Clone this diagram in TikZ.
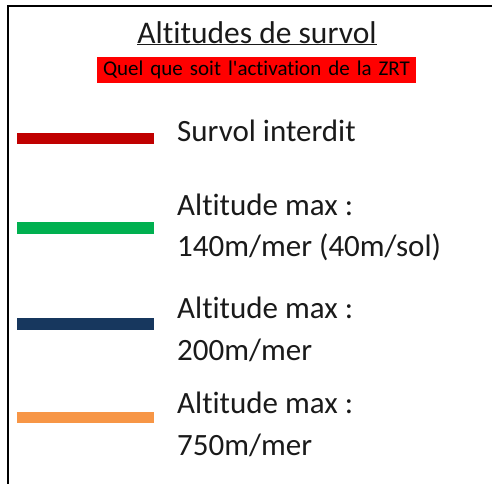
\documentclass[tikz,border=0pt]{standalone}
\usepackage{fontspec}
\setmainfont{Carlito}[RawFeature=-liga]
\usepackage{tikz}
\usetikzlibrary{positioning}

\definecolor{barred}{HTML}{C00000}
\definecolor{bargreen}{HTML}{00B050}
\definecolor{barnavy}{HTML}{17375E}
\definecolor{barorange}{HTML}{F79646}
\definecolor{boxred}{HTML}{FF0000}
\definecolor{ink}{HTML}{1A1A1A}

\tikzset{
	bar/.style = {minimum width=137pt, minimum height=11.5pt, inner sep=0pt},
	legend/.style = {anchor=base west, align=left, inner sep=0pt, text=ink,
		font=\fontsize{31}{41.5}\selectfont},
}

\begin{document}
\begin{tikzpicture} [x=1pt, y=-1pt]
		\useasboundingbox (0,0) rectangle (492,483);
		\clip (0,0) rectangle (492,483);
		\draw [line width=2pt] (8.3,500) |- (510,6.3);
		\node (title) [anchor=base, inner sep=0pt, text=ink, font=\fontsize{31.5}{36}\selectfont] at (257,43) {\underline{Altitudes de survol}};
		\node (zrt) [fill=boxred, inner sep=0pt, minimum height=26pt, text width=319pt, align=center, font=\fontsize{21}{24}\selectfont] at (256.5,70) {Quel que soit l\textquotesingle activation de la ZRT};
		\node (interdit) [bar, fill=barred] at (85.5,138.5) {};
		\node (max140) [bar, fill=bargreen] at (85.5,228) {};
		\node (max200) [bar, fill=barnavy] at (85.5,324) {};
		\node (max750) [bar, fill=barorange] at (85.5,417.5) {};
		\node (linterdit) [legend] at (177,141.7) {Survol interdit};
		\node (l140) [legend] at (177,256.7) {Altitude max :\\140m/mer (40m/sol)};
		\node (l200) [legend] at (177,360) {Altitude max :\\200m/mer};
		\node (l750) [legend] at (177,455) {Altitude max :\\750m/mer};
	\end{tikzpicture}
\end{document}
